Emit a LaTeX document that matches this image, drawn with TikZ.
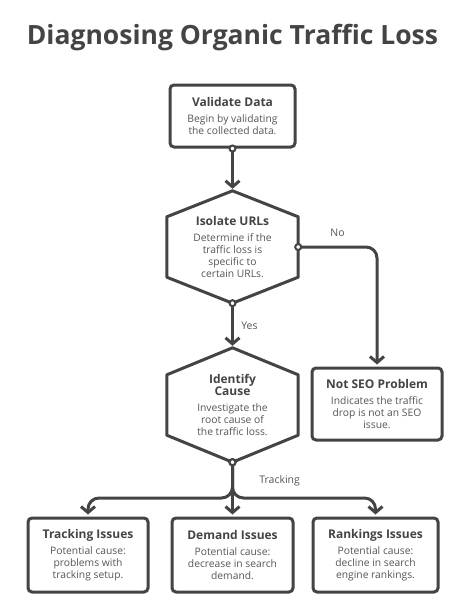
\documentclass[tikz,border=0pt]{standalone}
\usepackage{fontspec}
\setmainfont{Open Sans}
\usepackage{xcolor}
\usetikzlibrary{arrows.meta}

\definecolor{ink}{HTML}{444444}
\definecolor{textgray}{HTML}{555555}
\newcommand{\boxtitle}[1]{{\color{ink}\bfseries\fontsize{12}{14}\selectfont #1}}

\begin{document}
\begin{tikzpicture}[x=1pt, y=-1pt,
    box/.style={draw=ink, line width=3pt, rounded corners=4pt, fill=white, align=center, text=textgray, font=\fontsize{10.3}{12}\selectfont, inner sep=2pt},
    hexa/.style={align=center, text=textgray, font=\fontsize{10.3}{12}\selectfont, minimum width=131pt, inner sep=0pt},
    edge/.style={draw=ink, line width=3pt, line join=round},
    flow/.style={draw=ink, line width=3pt, rounded corners=11pt, {Circle[fill=white, length=8pt, width=8pt, line width=2pt]}-{Straight Barb[length=6pt, width=14pt]}, shorten <=-4pt, shorten >=2pt},
    lbl/.style={text=textgray, font=\fontsize{10.5}{12}\selectfont}]
    \useasboundingbox (0,0) rectangle (465,610);

    \node[font=\bfseries\fontsize{26.5}{30}\selectfont, text=ink] (title) at (232.5,38) {Diagnosing Organic Traffic Loss};

    \node[box, minimum width=125pt, minimum height=62pt] (validate) at (232.5,116) {\boxtitle{Validate Data}\\[4pt]Begin by validating\\the collected data.};
    \node[hexa, minimum height=112pt] (isolate) at (232.5,247) {\boxtitle{Isolate URLs}\\[4pt]Determine if the\\traffic loss is\\specific to\\certain URLs.};
    \node[hexa, minimum height=114pt] (identify) at (232.5,405) {\boxtitle{Identify}\\\boxtitle{Cause}\\[4pt]Investigate the\\root cause of\\the traffic loss.};
    \node[box, minimum width=130pt, minimum height=72pt] (notseo) at (377,404) {\boxtitle{Not SEO Problem}\\[4pt]Indicates the traffic\\drop is not an SEO\\issue.};
    \node[box, minimum width=120pt, minimum height=74pt] (tracking) at (88,555) {\boxtitle{Tracking Issues}\\[4pt]Potential cause:\\problems with\\tracking setup.};
    \node[box, minimum width=121pt, minimum height=74pt] (demand) at (232.5,555) {\boxtitle{Demand Issues}\\[4pt]Potential cause:\\decrease in search\\demand.};
    \node[box, minimum width=125pt, minimum height=74pt] (rankings) at (375.5,555) {\boxtitle{Rankings Issues}\\[4pt]Potential cause:\\decline in search\\engine rankings.};

    \draw[edge] (isolate.north) -- ([yshift=-26pt]isolate.north east) -- ([yshift=26pt]isolate.south east) -- (isolate.south) -- ([yshift=26pt]isolate.south west) -- ([yshift=-26pt]isolate.north west) -- cycle;
    \draw[edge] (identify.north) -- ([yshift=-27pt]identify.north east) -- ([yshift=27pt]identify.south east) -- (identify.south) -- ([yshift=27pt]identify.south west) -- ([yshift=-27pt]identify.north west) -- cycle;

    \coordinate (fork) at (232.5,498);

    \draw[flow] (validate.south) -- (isolate.north);
    \draw[flow] (isolate.east) -| node[pos=0.25, above=6pt, lbl] {No} (notseo.north);
    \draw[flow] (isolate.south) -- node[midway, right=4pt, lbl] {Yes} (identify.north);
    \draw[flow] (identify.south) -- (fork) -| (tracking.north);
    \draw[flow] (identify.south) -- (fork) -| (rankings.north);
    \draw[flow] (identify.south) -- node[pos=0.35, right=22pt, lbl] {Tracking} (demand.north);
\end{tikzpicture}
\end{document}
